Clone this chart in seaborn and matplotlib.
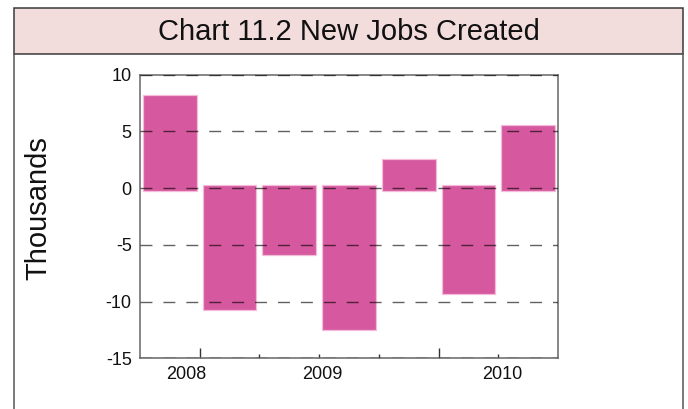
import matplotlib
matplotlib.use("Agg")
import matplotlib.pyplot as plt
import matplotlib.transforms as mtransforms
from matplotlib.patches import Rectangle
from matplotlib.lines import Line2D
import pandas as pd
import seaborn as sns

# Data: net new jobs per period (thousands)
periods = ["1", "2", "3", "4", "5", "6", "7"]
jobs = [8.2, -10.7, -5.9, -12.5, 2.6, -9.3, 5.6]
year_labels = ["2008", "2009", "2010"]
year_label_pos = [0.27, 2.55, 5.56]
y_ticks = [-15, -10, -5, 0, 5, 10]

sns.set_theme(style="white")
plt.rcParams["font.family"] = ["Liberation Sans", "DejaVu Sans"]
plt.rcParams["axes.unicode_minus"] = False

W, H = 688, 409
fig = plt.figure(figsize=(W / 100, H / 100), dpi=100)


def fx(px):
    return px / W


def fy(py):
    return 1 - py / H


# Title banner and side rules of the panel
fig.patches.append(Rectangle((fx(14), fy(54)), fx(683) - fx(14), fy(8) - fy(54),
                             transform=fig.transFigure, facecolor="#f2dcdc",
                             edgecolor="#3a3a3a", lw=1.1, zorder=0))
for x in (14, 683):
    fig.lines.append(Line2D([fx(x), fx(x)], [fy(54), 0], transform=fig.transFigure,
                            color="#555555", lw=1.1))
fig.text(fx(348.5), fy(32), "Chart 11.2 New Jobs Created", ha="center", va="center",
         fontsize=21, color="#111111")
fig.text(fx(38), fy(208), "Thousands", rotation=90, ha="center", va="center",
         fontsize=21, color="#111111")

ax = fig.add_axes([fx(140), fy(358.3), fx(558) - fx(140), fy(74.7) - fy(358.3)])
df = pd.DataFrame({"period": periods, "jobs": jobs})
sns.barplot(data=df, x="period", y="jobs", color="#d6589e", saturation=1,
            width=0.9, edgecolor="#f4bcd9", linewidth=0.9, ax=ax, zorder=2)

# bars overlap the zero line slightly
overlap = 0.25
for p in ax.patches:
    h = p.get_height()
    if h >= 0:
        p.set_y(-overlap)
        p.set_height(h + overlap)
    else:
        p.set_y(overlap)
        p.set_height(h - overlap)

ax.set_xlim(-0.5, 6.5)
ax.set_ylim(-15, 10)
ax.set_yticks(y_ticks)
ax.set_yticklabels([str(v) for v in y_ticks])
for v in y_ticks:
    ax.axhline(v, color="black", alpha=0.62, lw=1.0, dashes=(8.6, 7.9), zorder=3)

ax.set_xticks([0.5, 4.5])
ax.set_xticks([1.5, 2.5, 3.5, 5.5], minor=True)
ax.tick_params(axis="x", which="major", direction="in", length=7.5, width=1,
               color="#333333", labelbottom=False, bottom=True)
ax.tick_params(axis="x", which="minor", direction="in", length=3, width=1,
               color="#333333", bottom=True)
ax.tick_params(axis="y", length=0, labelsize=13, pad=6, labelcolor="#111111")
ax.set_xlabel("")
ax.set_ylabel("")

trans = mtransforms.blended_transform_factory(ax.transData, ax.transAxes)
for pos, lab in zip(year_label_pos, year_labels):
    ax.text(pos, -0.028, lab, transform=trans, ha="center", va="top",
            fontsize=13, color="#111111")

for s in ax.spines.values():
    s.set_color("#666666")
    s.set_linewidth(1.1)

fig.savefig("out.png", dpi=100)
